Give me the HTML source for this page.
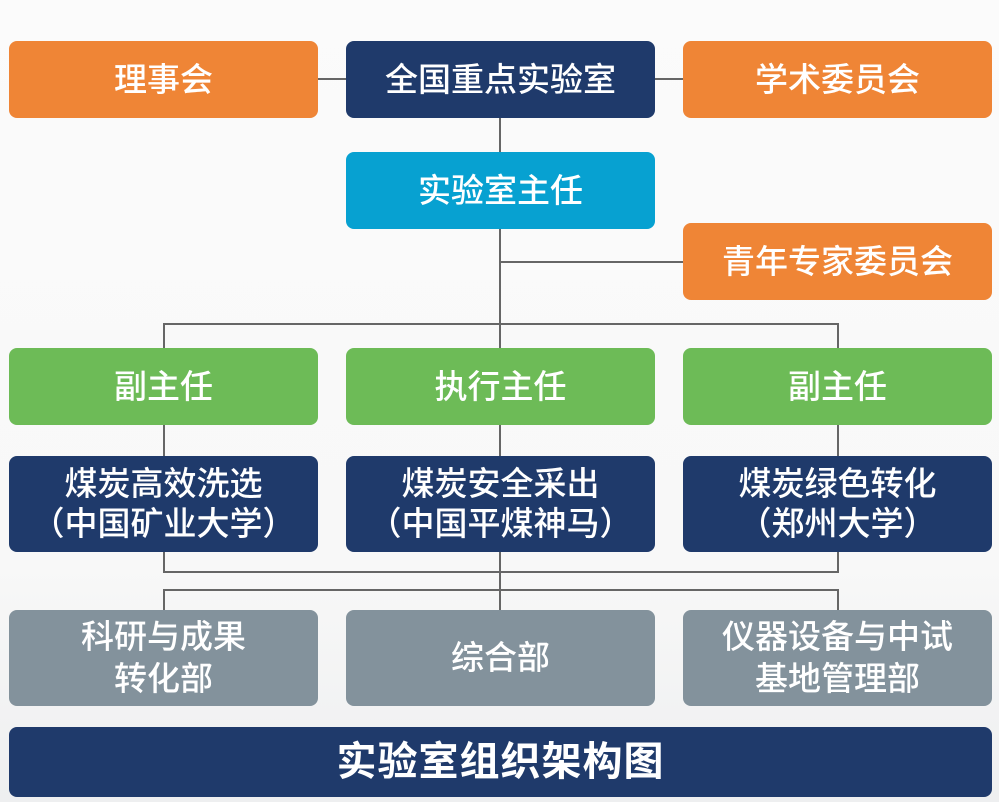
<!DOCTYPE html>
<html><head><meta charset="utf-8"><style>
body{margin:0;width:999px;height:802px;overflow:hidden;background:linear-gradient(#fbfbfb 0%,#f8f8f8 70%,#eeeff0 100%);position:relative;font-family:"Liberation Sans","Noto Sans CJK SC",sans-serif;}
.b{position:absolute;border-radius:8px;color:#fff;display:flex;align-items:center;justify-content:center;text-align:center;font-size:33px;line-height:40px;font-weight:500;}
.o{background:#ef8536}.n{background:#1f3a6b}.c{background:#07a1d1}.g{background:#6dbb57}.y{background:#83929c}
.l{position:absolute;background:#666;}
</style></head><body>
<div class="l" style="left:318px;top:78px;width:28px;height:2px"></div>
<div class="l" style="left:655px;top:78px;width:28px;height:2px"></div>
<div class="l" style="left:499px;top:117px;width:2px;height:232px"></div>
<div class="l" style="left:499px;top:261px;width:184px;height:2px"></div>
<div class="l" style="left:163px;top:323px;width:676px;height:2px"></div>
<div class="l" style="left:163px;top:323px;width:2px;height:26px"></div>
<div class="l" style="left:837px;top:323px;width:2px;height:26px"></div>
<div class="l" style="left:163px;top:425px;width:2px;height:31px"></div>
<div class="l" style="left:499px;top:425px;width:2px;height:31px"></div>
<div class="l" style="left:837px;top:425px;width:2px;height:31px"></div>
<div class="l" style="left:163px;top:552px;width:2px;height:20px"></div>
<div class="l" style="left:837px;top:552px;width:2px;height:20px"></div>
<div class="l" style="left:163px;top:571px;width:676px;height:2px"></div>
<div class="l" style="left:499px;top:552px;width:2px;height:58px"></div>
<div class="l" style="left:163px;top:589px;width:676px;height:2px"></div>
<div class="l" style="left:163px;top:589px;width:2px;height:21px"></div>
<div class="l" style="left:837px;top:589px;width:2px;height:21px"></div>

<div class="b o" style="left:9px;top:41px;width:309px;height:77px">理事会</div>
<div class="b n" style="left:346px;top:41px;width:309px;height:77px">全国重点实验室</div>
<div class="b o" style="left:683px;top:41px;width:309px;height:77px">学术委员会</div>
<div class="b c" style="left:346px;top:152px;width:309px;height:77px">实验室主任</div>
<div class="b o" style="left:683px;top:223px;width:309px;height:77px">青年专家委员会</div>
<div class="b g" style="left:9px;top:348px;width:309px;height:77px">副主任</div>
<div class="b g" style="left:346px;top:348px;width:309px;height:77px">执行主任</div>
<div class="b g" style="left:683px;top:348px;width:309px;height:77px">副主任</div>
<div class="b n" style="left:9px;top:456px;width:309px;height:96px">煤炭高效洗选<br>（中国矿业大学）</div>
<div class="b n" style="left:346px;top:456px;width:309px;height:96px">煤炭安全采出<br>（中国平煤神马）</div>
<div class="b n" style="left:683px;top:456px;width:309px;height:96px">煤炭绿色转化<br>（郑州大学）</div>
<div class="b y" style="left:9px;top:610px;width:309px;height:96px;line-height:42px">科研与成果<br>转化部</div>
<div class="b y" style="left:346px;top:610px;width:309px;height:96px">综合部</div>
<div class="b y" style="left:683px;top:610px;width:309px;height:96px;line-height:42px">仪器设备与中试<br>基地管理部</div>
<div class="b n" style="left:9px;top:727px;width:983px;height:70px;font-size:40px;font-weight:700;letter-spacing:1px">实验室组织架构图</div>
</body></html>
